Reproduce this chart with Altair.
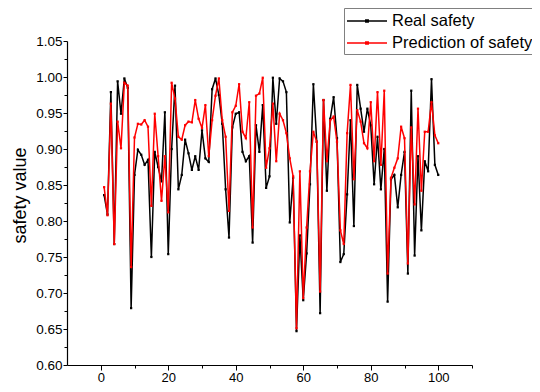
import altair as alt
import pandas as pd

x_index = list(range(1, 101))

real_safety = [
    0.836, 0.809, 0.979, 0.768, 0.994, 0.949, 0.998, 0.985, 0.679, 0.864,
    0.899, 0.892, 0.878, 0.885, 0.750, 0.896, 0.875, 0.855, 0.951, 0.754,
    0.900, 0.988, 0.844, 0.864, 0.913, 0.894, 0.871, 0.890, 0.871, 0.926,
    0.887, 0.882, 0.983, 0.998, 0.975, 0.935, 0.844, 0.777, 0.930, 0.949,
    0.951, 0.896, 0.883, 0.890, 0.770, 0.933, 0.896, 0.961, 0.846, 0.862,
    0.999, 0.935, 0.998, 0.994, 0.979, 0.798, 0.860, 0.647, 0.780, 0.690,
    0.755, 0.851, 0.990, 0.910, 0.672, 0.968, 0.842, 0.942, 0.972, 0.915,
    0.743, 0.754, 0.837, 0.940, 0.793, 0.989, 0.956, 0.924, 0.956, 0.933,
    0.851, 0.917, 0.844, 0.900, 0.688, 0.858, 0.864, 0.819, 0.864, 0.896,
    0.727, 0.981, 0.752, 0.890, 0.787, 0.883, 0.869, 0.997, 0.878, 0.864,
]

pred_safety = [
    0.847, 0.808, 0.963, 0.768, 0.938, 0.901, 0.992, 0.988, 0.736, 0.916,
    0.935, 0.934, 0.940, 0.931, 0.821, 0.949, 0.890, 0.828, 0.890, 0.812,
    0.992, 0.970, 0.917, 0.913, 0.933, 0.938, 0.937, 0.968, 0.942, 0.929,
    0.961, 0.890, 0.940, 0.974, 0.998, 0.940, 0.917, 0.814, 0.951, 0.960,
    0.990, 0.924, 0.915, 0.965, 0.791, 0.974, 0.977, 0.999, 0.874, 0.901,
    0.963, 0.883, 0.949, 0.940, 0.922, 0.887, 0.862, 0.651, 0.869, 0.693,
    0.791, 0.869, 0.924, 0.910, 0.702, 0.968, 0.883, 0.940, 0.945, 0.910,
    0.787, 0.768, 0.922, 0.989, 0.858, 0.954, 0.938, 0.908, 0.901, 0.965,
    0.883, 0.979, 0.878, 0.981, 0.727, 0.860, 0.874, 0.887, 0.931, 0.915,
    0.741, 0.930, 0.823, 0.956, 0.842, 0.924, 0.924, 0.965, 0.919, 0.908,
]

series_names = ["Real safety", "Prediction of safety"]
series_colors = ["#000000", "#ff0000"]

x_tick_values = [0, 10, 20, 30, 40, 50, 60, 70, 80, 90, 100, 110]
y_tick_values = [0.6 + 0.025 * k for k in range(19)]

df_real = pd.DataFrame({"x": x_index, "y": real_safety, "series": series_names[0]})
df_pred = pd.DataFrame({"x": x_index, "y": pred_safety, "series": series_names[1]})

FONT = "Liberation Sans"

x_enc = alt.X(
    "x:Q",
    scale=alt.Scale(domain=[-10, 110], nice=False, zero=False),
    axis=alt.Axis(
        values=x_tick_values,
        labelExpr="datum.value % 20 === 0 ? datum.label : ''",
        title=None,
        grid=False,
        domainColor="#000000",
        tickColor="#000000",
        tickSize={"condition": {"test": "datum.value % 20 === 0", "value": 5}, "value": 3},
        labelFont=FONT,
        labelFontSize=13,
        labelColor="#000000",
        labelPadding=1,
        domainWidth=1.2,
    ),
)

y_enc = alt.Y(
    "y:Q",
    scale=alt.Scale(domain=[0.6, 1.05], nice=False, zero=False),
    axis=alt.Axis(
        values=y_tick_values,
        labelExpr="round(datum.value * 1000) % 50 === 0 ? format(datum.value, '.2f') : ''",
        title="safety value",
        titleFont=FONT,
        titleFontSize=18,
        titleFontWeight="normal",
        titleColor="#000000",
        titleX=-42,
        titleY=154,
        titleAngle=270,
        titleAlign="center",
        titleBaseline="alphabetic",
        grid=False,
        domainColor="#000000",
        tickColor="#000000",
        tickSize={"condition": {"test": "round(datum.value * 1000) % 50 === 0", "value": 4}, "value": 3},
        labelFont=FONT,
        labelFontSize=13.5,
        labelColor="#000000",
        labelPadding=1,
        domainWidth=1.2,
    ),
)

color_enc = alt.Color(
    "series:N",
    scale=alt.Scale(domain=series_names, range=series_colors),
    legend=alt.Legend(
        title=None,
        orient="none",
        legendX=277,
        legendY=-33,
        symbolType="M-1,0H3M0.88,-0.1H1.12V0.1H0.88Z",
        symbolSize=400,
        symbolStrokeWidth=1.5,
        labelFont=FONT,
        labelFontSize=16.5,
        labelColor="#000000",
        labelLimit=300,
        strokeColor="#808080",
        fillColor="#ffffff",
        padding=2,
        rowPadding=2,
        labelOffset=24,
        symbolOffset=0,
    ),
)

point_def = alt.OverlayMarkDef(size=5, filled=True, shape="square")

line_real = alt.Chart(df_real).mark_line(strokeWidth=1.5, point=point_def).encode(
    x=x_enc, y=y_enc, color=color_enc
)
line_pred = alt.Chart(df_pred).mark_line(strokeWidth=1.5, point=point_def).encode(
    x=x_enc, y=y_enc, color=color_enc
)

chart = (
    alt.layer(line_real, line_pred)
    .properties(
        width=405,
        height=324,
        autosize=alt.AutoSizeParams(type="none"),
        padding={"left": 59, "top": 33, "right": 60, "bottom": 19},
        background="#ffffff",
    )
    .configure_view(stroke=None)
)

chart.save("out.html", embed_options={"renderer": "svg", "actions": False})
